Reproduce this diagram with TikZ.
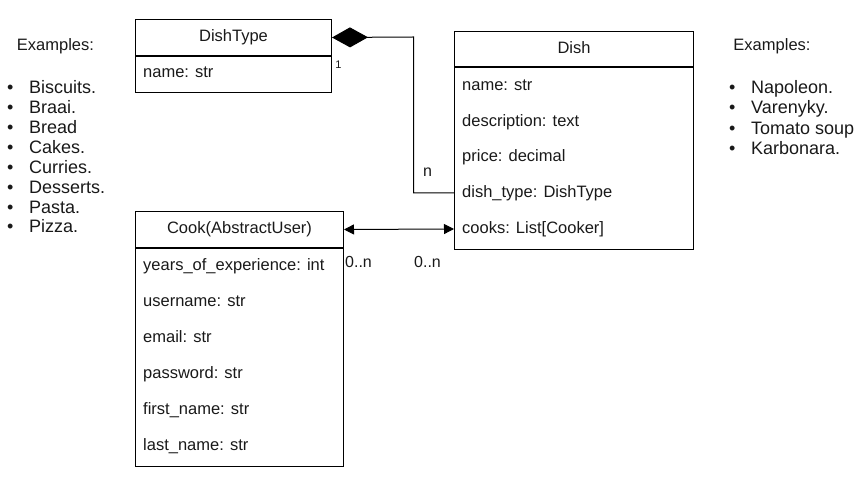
\documentclass[tikz,border=0pt]{standalone}
\usepackage{fontspec}
\setmainfont{Liberation Sans}
\usetikzlibrary{arrows.meta}
\begin{document}
\begin{tikzpicture}[x=1pt,y=-1pt,
  ink/.style={draw=black, line width=1pt},
  txt/.style={text=black!90, font=\fontsize{16.5}{20}\selectfont, inner sep=0pt,
    text height=12pt, text depth=3.5pt},
  boxpart/.style={ink, txt, rectangle, anchor=north west, inner sep=0pt},
  row/.style={txt, anchor=west, inner xsep=8pt},
  lbl/.style={txt, font=\fontsize{16}{18}\selectfont},
  item/.style={txt, anchor=west, font=\fontsize{18}{20}\selectfont},
  tri/.tip={Triangle[length=10pt,width=10pt]},
  compo/.tip={Diamond[length=36pt,width=20pt]}
]
\useasboundingbox (0,0) rectangle (868,502);
\newcommand\bul{\makebox[22pt][l]{\textbullet}}

% DishType class
\node[boxpart, minimum width=196pt, minimum height=36pt] (dtHead) at (135,19) {DishType};
\node[boxpart, minimum width=196pt, minimum height=36pt] (dtBody) at (dtHead.south west) {};
\node[row] (dtName) at (135,73) {name: str};

% Dish class
\node[boxpart, minimum width=239pt, minimum height=35pt] (dHead) at (454,31) {Dish};
\node[boxpart, minimum width=239pt, minimum height=182pt] (dBody) at (dHead.south west) {};
\node[row] (dName)  at (454,86)  {name: str};
\node[row] (dDesc)  at (454,122) {description: text};
\node[row] (dPrice) at (454,157) {price: decimal};
\node[row] (dType)  at (454,193) {dish\_type: DishType};
\node[row] (dCooks) at (454,229) {cooks: List[Cooker]};

% Cook class
\node[boxpart, minimum width=208pt, minimum height=36pt] (cHead) at (135,211) {Cook(AbstractUser)};
\node[boxpart, minimum width=208pt, minimum height=218pt] (cBody) at (cHead.south west) {};
\node[row] (cYears) at (135,266) {years\_of\_experience: int};
\node[row] (cUser)  at (135,302) {username: str};
\node[row] (cMail)  at (135,338) {email: str};
\node[row] (cPass)  at (135,374) {password: str};
\node[row] (cFirst) at (135,410) {first\_name: str};
\node[row] (cLast)  at (135,446) {last\_name: str};

% Composition DishType <>-- Dish.dish_type
\coordinate (bend) at (413.5,37);
\draw[ink, {compo}-] (dtHead.east) -- (bend) |- (dType.west);
\node[lbl, font=\fontsize{11}{13}\selectfont] (one) at (338.5,64) {1};
\node[lbl] (many) at (427.5,172) {n};

% Many-to-many Cook <-> Dish.cooks
\draw[ink, {tri}-{tri}] (cHead.east) -- (dCooks.west);
\node[lbl] (mCook) at (358.5,263) {0..n};
\node[lbl] (mDish) at (427.5,263) {0..n};

% Dish type examples
\node[txt] (exL) at (55.5,46) {Examples:};
\node[item] (l1) at (7,89)  {\bul Biscuits.};
\node[item] (l2) at (7,109) {\bul Braai.};
\node[item] (l3) at (7,129) {\bul Bread};
\node[item] (l4) at (7,149) {\bul Cakes.};
\node[item] (l5) at (7,169) {\bul Curries.};
\node[item] (l6) at (7,189) {\bul Desserts.};
\node[item] (l7) at (7,209) {\bul Pasta.};
\node[item] (l8) at (7,228) {\bul Pizza.};

% Dish examples
\node[txt] (exR) at (772,46) {Examples:};
\node[item] (r1) at (729,89)  {\bul Napoleon.};
\node[item] (r2) at (729,109) {\bul Varenyky.};
\node[item] (r3) at (729,130) {\bul Tomato soup};
\node[item] (r4) at (729,150) {\bul Karbonara.};
\end{tikzpicture}
\end{document}
